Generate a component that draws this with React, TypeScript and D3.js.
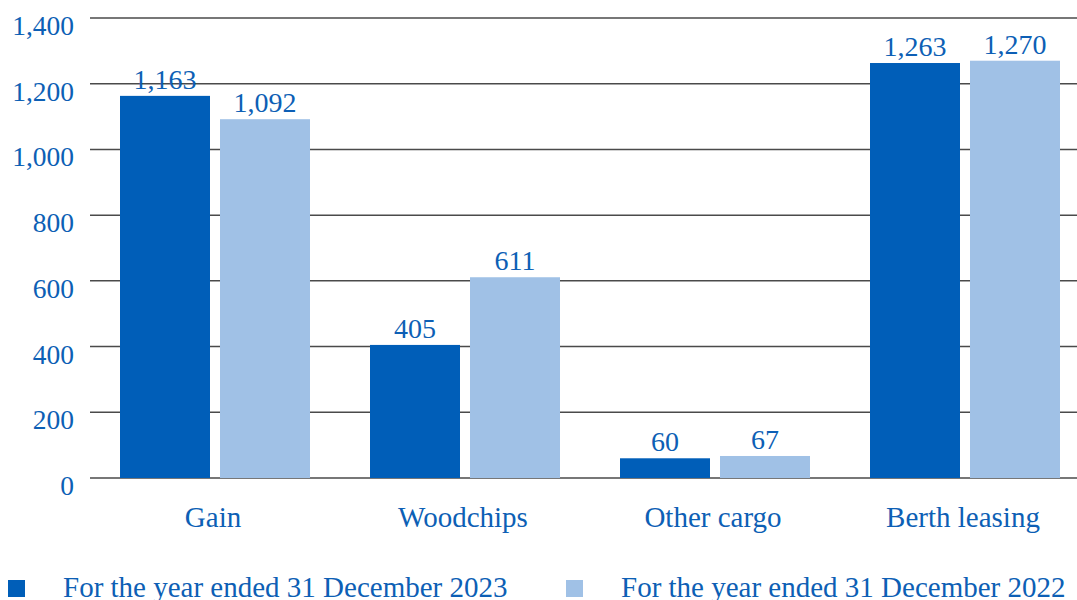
import * as d3 from "d3";
import { useEffect, useRef } from "react";

const categories = ["Gain", "Woodchips", "Other cargo", "Berth leasing"];
const series = ["For the year ended 31 December 2023", "For the year ended 31 December 2022"];
const values2023 = [1163, 405, 60, 1263];
const values2022 = [1092, 611, 67, 1270];
const yTicks = [0, 200, 400, 600, 800, 1000, 1200, 1400];
const colors = ["#005EB8", "#A0C1E6"];

const textColor = "#0D5FB5";
const font = "'Liberation Serif', 'Times New Roman', serif";

export default function App() {
  const ref = useRef<SVGSVGElement>(null);

  useEffect(() => {
    const width = 1077;
    const height = 600;
    const svg = d3.select(ref.current).attr("width", width).attr("height", height);
    svg.selectAll("*").remove();

    const y = d3.scaleLinear().domain([0, 1400]).range([478, 18]);
    const x0 = d3.scaleBand().domain(categories).range([90, 1090]).padding(0);
    const x1 = d3.scaleBand().domain(series).range([30, 220]).paddingInner(0.1).paddingOuter(0);

    // gridlines
    svg
      .append("g")
      .selectAll("line")
      .data(yTicks)
      .join("line")
      .attr("x1", 90)
      .attr("x2", width)
      .attr("y1", (d) => y(d))
      .attr("y2", (d) => y(d))
      .attr("stroke", "#4a4a4a")
      .attr("stroke-width", 1.5);

    // y tick labels
    svg
      .append("g")
      .attr("text-anchor", "end")
      .selectAll("text")
      .data(yTicks)
      .join("text")
      .attr("x", 74)
      .attr("y", (d) => y(d) + 17)
      .attr("fill", textColor)
      .attr("font-family", font)
      .attr("font-size", 27.5)
      .text((d) => d3.format(",")(d));

    const rows = categories.map((c, i) => ({ cat: c, vals: [values2023[i], values2022[i]] }));

    const groups = svg
      .append("g")
      .selectAll("g")
      .data(rows)
      .join("g")
      .attr("transform", (d) => `translate(${x0(d.cat)},0)`);

    const cells = groups
      .selectAll("g")
      .data((d) => d.vals.map((v, j) => ({ s: series[j], v, j })))
      .join("g");

    cells
      .append("rect")
      .attr("x", (d) => x1(d.s)!)
      .attr("width", x1.bandwidth())
      .attr("y", (d) => y(d.v))
      .attr("height", (d) => y(0) - y(d.v))
      .attr("fill", (d) => colors[d.j]);

    cells
      .append("text")
      .attr("x", (d) => x1(d.s)! + x1.bandwidth() / 2)
      .attr("y", (d) => y(d.v) - 7)
      .attr("text-anchor", "middle")
      .attr("fill", textColor)
      .attr("font-family", font)
      .attr("font-size", 28)
      .text((d) => d3.format(",")(d.v));

    // category labels
    svg
      .append("g")
      .attr("text-anchor", "middle")
      .selectAll("text")
      .data(categories)
      .join("text")
      .attr("x", (d) => x0(d)! + 123)
      .attr("y", 527)
      .attr("fill", textColor)
      .attr("font-family", font)
      .attr("font-size", 29)
      .text((d) => d);

    // legend
    const legendX = [8, 566];
    const legend = svg
      .append("g")
      .selectAll("g")
      .data(series)
      .join("g")
      .attr("transform", (_, i) => `translate(${legendX[i]},580)`);

    legend
      .append("rect")
      .attr("width", 17)
      .attr("height", 17)
      .attr("fill", (_, i) => colors[i]);

    legend
      .append("text")
      .attr("x", 55)
      .attr("y", 17)
      .attr("fill", textColor)
      .attr("font-family", font)
      .attr("font-size", 29)
      .text((d) => d);
  }, []);

  return <svg ref={ref} style={{ position: "absolute", left: 0, top: 0 }}></svg>;
}
